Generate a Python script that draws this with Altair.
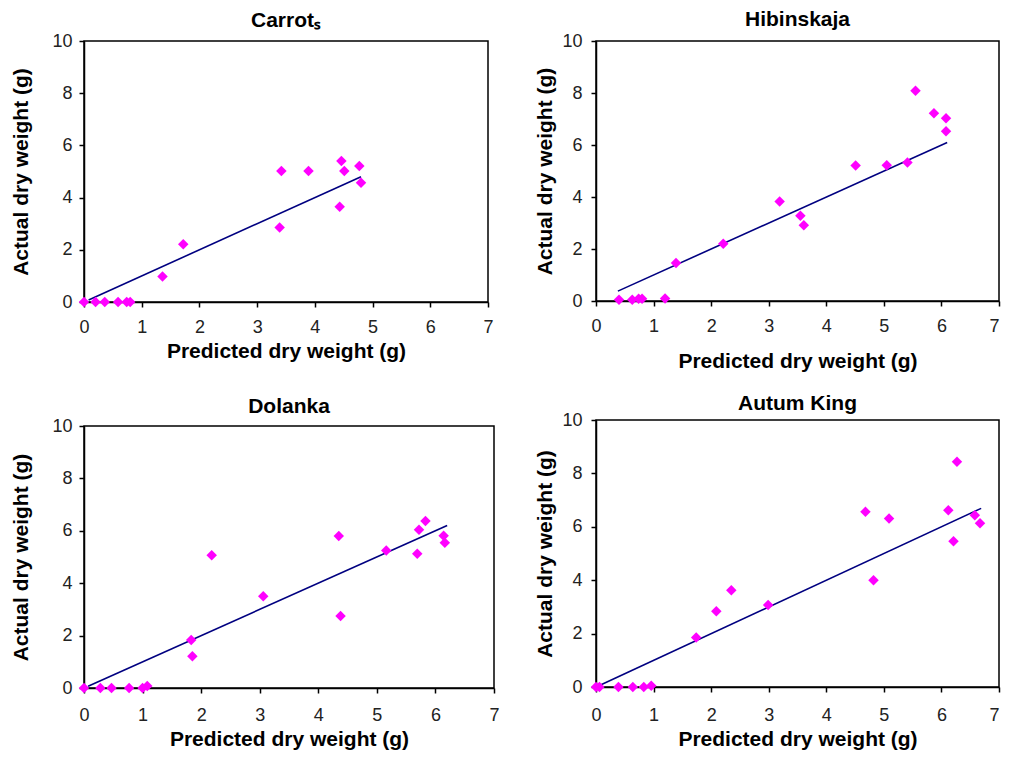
import altair as alt
import pandas as pd

FONT = "Liberation Sans"

# ---- data ----
carrot_pred = [0.0, 0.2, 0.36, 0.59, 0.74, 0.8, 1.36, 1.72, 3.42, 3.39, 3.89, 4.46, 4.51, 4.43, 4.77, 4.8]
carrot_act = [0.0, 0.0, 0.0, 0.0, 0.0, 0.0, 0.98, 2.21, 5.02, 2.85, 5.02, 5.4, 5.02, 3.65, 5.21, 4.57]
carrot_line = [0.08, 4.8]

hib_pred = [0.4, 0.63, 0.74, 0.8, 1.2, 1.39, 2.21, 3.19, 3.55, 3.61, 4.51, 5.05, 5.41, 5.55, 5.87, 6.08, 6.08]
hib_act = [0.05, 0.05, 0.09, 0.09, 0.1, 1.46, 2.2, 3.83, 3.28, 2.91, 5.21, 5.22, 5.33, 8.09, 7.22, 7.03, 6.53]
hib_line = [0.38, 6.1]

dol_pred = [0.0, 0.28, 0.47, 0.77, 1.0, 1.08, 1.83, 1.85, 2.18, 3.06, 4.35, 4.38, 5.16, 5.69, 5.72, 5.83, 6.14, 6.16]
dol_act = [0.0, 0.0, 0.0, 0.0, 0.0, 0.08, 1.83, 1.21, 5.07, 3.5, 5.8, 2.75, 5.25, 5.12, 6.04, 6.37, 5.81, 5.54]
dol_line = [0.07, 6.2]

aut_pred = [0.0, 0.06, 0.39, 0.64, 0.83, 0.96, 1.74, 2.09, 2.35, 2.99, 4.68, 4.82, 5.09, 6.12, 6.21, 6.27, 6.58, 6.67]
aut_act = [0.0, 0.0, 0.0, 0.0, 0.0, 0.05, 1.85, 2.84, 3.62, 3.07, 6.56, 4.0, 6.31, 6.62, 5.46, 8.44, 6.43, 6.13]
aut_line = [0.05, 6.69]

x_ticks = [0, 1, 2, 3, 4, 5, 6, 7]
y_ticks = [0, 2, 4, 6, 8, 10]

x_title = "Predicted dry weight (g)"
y_title = "Actual dry weight (g)"


def panel(title, xs, ys, line, w, h, title_offset, y_title_pad, y_label_pad, x_label_pad, x_title_pad,
          flush_last=False):
    pts = pd.DataFrame({"x": xs, "y": ys})
    ln = pd.DataFrame({"x": line, "y": line})
    xsc = alt.Scale(domain=[0, 7], nice=False)
    ysc = alt.Scale(domain=[0, 10], nice=False)
    xkw = {}
    if flush_last:
        xkw["labelAlign"] = {"condition": {"test": "datum.value == 7", "value": "right"}, "value": "center"}
    xax = alt.Axis(title=x_title, values=x_ticks, labelPadding=x_label_pad, titlePadding=x_title_pad,
                   labelFlush=False, **xkw)
    yax = alt.Axis(title=y_title, values=y_ticks, labelPadding=y_label_pad, titlePadding=y_title_pad,
                   labelFlush=False)
    base_line = alt.Chart(ln).mark_line(color="#000080", strokeWidth=1.6, clip=False).encode(
        x=alt.X("x:Q", scale=xsc, axis=xax),
        y=alt.Y("y:Q", scale=ysc, axis=yax),
    )
    points = alt.Chart(pts).mark_point(shape="diamond", filled=True, color="#FF00FF", size=110, opacity=1).encode(
        x=alt.X("x:Q", scale=xsc, axis=xax),
        y=alt.Y("y:Q", scale=ysc, axis=yax),
    )
    return alt.layer(base_line, points).properties(
        width=w, height=h,
        title=alt.TitleParams(text=title, offset=title_offset, font=FONT, fontSize=21,
                              fontWeight="bold", color="black", anchor="middle"),
    )


p1 = panel("Carrotₛ", carrot_pred, carrot_act, carrot_line, 404, 261, 1, 20, 7, 11, 4)
p2 = panel("Hibinskaja", hib_pred, hib_act, hib_line, 403, 260, 2, 6, 9, 11, 15, flush_last=True)
p3 = panel("Dolanka", dol_pred, dol_act, dol_line, 410, 262, 0, 20, 7, 13, 4)
p4 = panel("Autum King", aut_pred, aut_act, aut_line, 403, 267, -3, 6, 9, 14, 4, flush_last=True)

col1 = alt.vconcat(p1, p3, spacing=33)
col2 = alt.vconcat(p2, p4, spacing=20)

chart = alt.hconcat(col1, col2, spacing=34).properties(
    padding={"left": 2, "top": 0, "right": 0, "bottom": 0},
    background="white",
).configure_view(
    stroke="black", strokeWidth=1.5
).configure_axis(
    grid=False,
    domainColor="black", domainWidth=1.5,
    tickColor="black", tickWidth=1.5, tickSize=5,
    labelFont=FONT, labelFontSize=18, labelColor="#222",
    titleFont=FONT, titleFontSize=21, titleFontWeight="bold", titleColor="black",
)

chart.save("out.html", embed_options={"renderer": "svg", "actions": False})
